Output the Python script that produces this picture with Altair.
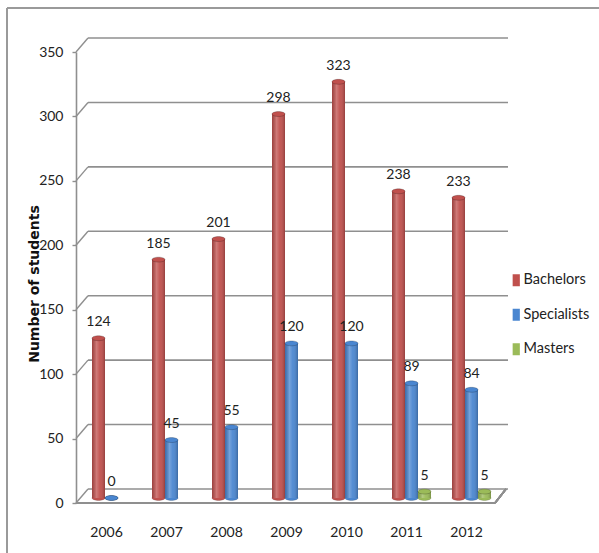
import altair as alt
import pandas as pd

# Enrolment by year and degree programme
years = ["2006", "2007", "2008", "2009", "2010", "2011", "2012"]
bachelors = [124, 185, 201, 298, 323, 238, 233]
specialists = [0, 45, 55, 120, 120, 89, 84]
masters = [None, None, None, None, None, 5, 5]

series_names = ["Bachelors", "Specialists", "Masters"]
series_colors = ["#C0504D", "#4A86D0", "#9BBB59"]
y_ticks = [0, 50, 100, 150, 200, 250, 300, 350]

rows = []
for name, values in zip(series_names, [bachelors, specialists, masters]):
    for yr, v in zip(years, values):
        if v is not None:
            rows.append({"year": yr, "series": name, "students": v})
df = pd.DataFrame(rows)
grid_df = pd.DataFrame({"v": y_ticks})

FONT = "Lato, Liberation Sans, sans-serif"
GRID = "#8f8f8f"
W, H = 420, 451
DEPTH_X, DEPTH_Y = 12, -14
LIFT = -5  # cylinders stand slightly back on the floor

x_enc = alt.X(
    "year:N",
    sort=years,
    scale=alt.Scale(range=[5.5, 425.5], paddingInner=0.35, paddingOuter=0.175),
    axis=alt.Axis(
        title=None, domain=False, ticks=False, labelPadding=22, labelOffset=-5,
        labelFont=FONT, labelFontSize=14, labelColor="#222", labelAngle=0,
    ),
)
y_scale = alt.Scale(domain=[0, 350], nice=False)
y_axis = alt.Axis(
    values=y_ticks, grid=False, domainColor=GRID, domainWidth=1.6,
    tickColor=GRID, tickSize=4, tickWidth=1.4, labelPadding=9,
    labelFont=FONT, labelFontSize=14, labelColor="#222",
    title="Number of students", titleFont="DejaVu Sans", titleFontSize=14,
    titleFontWeight="bold", titleColor="#111", titleAngle=270,
    titleX=-42, titleY=H / 2 + 6, titleAlign="center", titleBaseline="middle",
)
xoff = alt.XOffset("series:N", sort=series_names, scale=alt.Scale(domain=series_names))
color_enc = alt.Color(
    "series:N",
    sort=series_names,
    scale=alt.Scale(domain=series_names, range=series_colors),
    legend=alt.Legend(
        title=None, orient="none", legendX=433, legendY=221,
        symbolType="M-0.6,-1H0.6V1H-0.6Z", symbolSize=144, symbolStrokeWidth=0,
        symbolOpacity=1, labelFont=FONT, labelFontSize=14.5, labelColor="#222",
        labelOffset=0, rowPadding=19.5, padding=0,
    ),
)

base = alt.Chart(df)

# back-wall gridlines and their diagonal links to the front axis
back_grid = alt.Chart(grid_df).mark_rule(color=GRID, strokeWidth=1.6, yOffset=DEPTH_Y).encode(
    y=alt.Y("v:Q", scale=y_scale, axis=y_axis),
    x=alt.value(DEPTH_X), x2=alt.value(W + 12),
)
diag_grid = alt.Chart(grid_df).mark_rule(color=GRID, strokeWidth=1.4, y2Offset=DEPTH_Y).encode(
    y=alt.Y("v:Q", scale=y_scale, axis=y_axis), y2="v:Q",
    x=alt.value(0), x2=alt.value(DEPTH_X),
)
floor_front = alt.Chart(grid_df).mark_rule(color=GRID, strokeWidth=1.6).encode(
    x=alt.value(0), x2=alt.value(W - 1), y=alt.value(H), y2=alt.value(H)
)
floor_side = alt.Chart(grid_df).mark_rule(color=GRID, strokeWidth=1.6).encode(
    x=alt.value(W - 1), x2=alt.value(W + 10), y=alt.value(H), y2=alt.value(H + DEPTH_Y)
)

# outer frame
frame_top = alt.Chart(grid_df).mark_rule(color="#9a9a9a", strokeWidth=1.5).encode(
    x=alt.value(-69), x2=alt.value(530), y=alt.value(-44), y2=alt.value(-44)
)
frame_left = alt.Chart(grid_df).mark_rule(color="#9a9a9a", strokeWidth=1.5).encode(
    x=alt.value(-69), x2=alt.value(-69), y=alt.value(-44), y2=alt.value(510)
)

ellipse = "M-1,0A1,0.38,0,1,0,1,0A1,0.38,0,1,0,-1,0Z"

bottom_caps = base.mark_point(
    shape=ellipse, size=169, filled=True, opacity=1, yOffset=LIFT,
    stroke="rgba(0,0,0,0.25)", strokeWidth=0.6,
).encode(
    x=x_enc, xOffset=xoff,
    y=alt.Y("base:Q", scale=y_scale, axis=y_axis),
    color=color_enc,
).transform_calculate(base="0")

bars = base.mark_bar(yOffset=LIFT, y2Offset=LIFT).encode(
    x=x_enc, xOffset=xoff,
    y=alt.Y("students:Q", scale=y_scale, axis=y_axis),
    y2=alt.datum(0),
    color=color_enc,
)

shade = base.mark_bar(
    yOffset=LIFT, y2Offset=LIFT,
    color=alt.Gradient(
        gradient="linear", x1=0, x2=1, y1=0, y2=0,
        stops=[
            alt.GradientStop(color="rgba(0,0,0,0.18)", offset=0),
            alt.GradientStop(color="rgba(255,255,255,0.24)", offset=0.35),
            alt.GradientStop(color="rgba(255,255,255,0.05)", offset=0.6),
            alt.GradientStop(color="rgba(0,0,0,0.22)", offset=1),
        ],
    ),
).encode(
    x=x_enc, xOffset=xoff,
    y=alt.Y("students:Q", scale=y_scale, axis=y_axis), y2=alt.datum(0),
)

top_caps = base.mark_point(
    shape=ellipse, size=169, filled=True, opacity=1, yOffset=LIFT,
    stroke="rgba(0,0,0,0.3)", strokeWidth=0.7,
).encode(
    x=x_enc, xOffset=xoff,
    y=alt.Y("students:Q", scale=y_scale, axis=y_axis),
    color=color_enc,
)

labels = base.mark_text(
    dy=-17, baseline="alphabetic", font=FONT, fontSize=14, color="#222"
).encode(
    x=x_enc, xOffset=xoff,
    y=alt.Y("students:Q", scale=y_scale, axis=y_axis),
    text="students:Q",
)

chart = alt.layer(
    frame_top, frame_left, back_grid, diag_grid, floor_front, floor_side,
    bottom_caps, bars, shade, top_caps, labels,
).properties(
    width=W, height=H,
    autosize=alt.AutoSizeParams(type="none"),
    padding={"left": 76, "top": 52, "right": 103, "bottom": 50},
    background="white",
).configure_view(stroke=None)

chart.save("out.html", embed_options={"renderer": "svg", "actions": False})
